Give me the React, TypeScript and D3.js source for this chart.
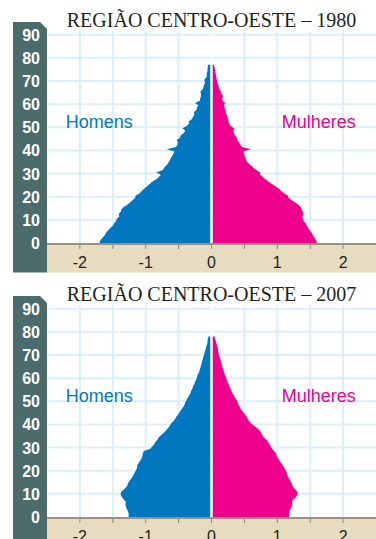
import React from "react";
import * as d3 from "d3";

const men1980 = [1.70,1.68,1.65,1.62,1.60,1.57,1.54,1.50,1.48,1.45,1.44,1.40,1.41,1.38,1.37,1.34,1.28,1.24,1.20,1.16,1.15,1.09,1.06,1.02,0.98,0.94,0.90,0.84,0.80,0.77,0.84,0.74,0.72,0.69,0.66,0.64,0.62,0.60,0.58,0.56,0.68,0.54,0.52,0.51,0.53,0.48,0.47,0.42,0.40,0.44,0.38,0.34,0.35,0.30,0.28,0.26,0.27,0.23,0.22,0.20,0.25,0.18,0.17,0.16,0.16,0.17,0.13,0.12,0.11,0.10,0.11,0.08,0.07,0.07,0.06,0.06,0.055];
const women1980 = [1.60,1.58,1.56,1.54,1.52,1.49,1.47,1.45,1.43,1.40,1.39,1.38,1.40,1.39,1.37,1.36,1.32,1.27,1.22,1.17,1.16,1.10,1.06,1.02,0.97,0.92,0.87,0.82,0.78,0.74,0.74,0.68,0.64,0.60,0.56,0.53,0.52,0.50,0.50,0.48,0.60,0.46,0.44,0.42,0.39,0.385,0.36,0.34,0.33,0.35,0.29,0.27,0.26,0.25,0.24,0.23,0.22,0.21,0.20,0.19,0.21,0.17,0.16,0.18,0.15,0.14,0.12,0.11,0.10,0.09,0.08,0.075,0.07,0.06,0.055,0.05,0.04];
const men2007 = [1.26,1.26,1.27,1.29,1.30,1.31,1.30,1.33,1.36,1.38,1.38,1.35,1.31,1.28,1.27,1.25,1.22,1.20,1.18,1.16,1.14,1.13,1.13,1.10,1.08,1.06,1.05,1.04,1.03,0.93,0.90,0.87,0.85,0.82,0.80,0.76,0.72,0.69,0.66,0.63,0.61,0.58,0.55,0.53,0.50,0.48,0.46,0.43,0.41,0.40,0.38,0.36,0.34,0.32,0.31,0.29,0.28,0.26,0.25,0.23,0.22,0.21,0.19,0.18,0.17,0.16,0.15,0.14,0.13,0.12,0.11,0.10,0.09,0.08,0.07,0.06,0.06,0.05];
const women2007 = [1.18,1.18,1.19,1.20,1.22,1.23,1.22,1.24,1.28,1.30,1.31,1.29,1.25,1.23,1.22,1.20,1.18,1.16,1.15,1.14,1.12,1.10,1.08,1.05,1.03,1.01,0.99,0.98,0.95,0.92,0.90,0.88,0.86,0.83,0.79,0.77,0.75,0.73,0.69,0.64,0.60,0.57,0.55,0.53,0.50,0.48,0.45,0.43,0.41,0.40,0.38,0.36,0.34,0.32,0.30,0.29,0.27,0.26,0.24,0.23,0.22,0.20,0.19,0.18,0.17,0.16,0.15,0.14,0.13,0.12,0.11,0.10,0.10,0.09,0.08,0.07,0.06,0.05];

const ageTicks = [0,10,20,30,40,50,60,70,80,90];
const xTickLabels = [-2,-1,0,1,2];
const xMinorTicks = [-2,-1.5,-1,-0.5,0,0.5,1,1.5,2];
const gridX = [-2,-1.5,-1,-0.5,0.5,1,1.5,2];

const charts = [
  { title: "REGIÃO CENTRO-OESTE – 1980", men: men1980, women: women1980, offset: 0 },
  { title: "REGIÃO CENTRO-OESTE – 2007", men: men2007, women: women2007, offset: 274 },
];

const BLUE = "#0077bf";
const PINK = "#ec008c";
const GRID = "#dbeffa";
const SIDE = "#4b6c6a";
const BEIGE = "#e7dcc0";

const x = d3.scaleLinear().domain([-2.5, 2.5]).range([47, 376]);

function Pyramid({ title, men, women, offset }: any) {
  const y = d3.scaleLinear().domain([0, 90]).range([243 + offset, 34.7 + offset]);
  const top = 31.5 + offset;
  const base = 243 + offset;
  const x0 = x(0);
  const pts = (vals: number[]) => {
    const p = [{ a: 0, v: vals[0] }];
    vals.forEach((v, i) => p.push({ a: i + 0.5, v }));
    p.push({ a: vals.length, v: vals[vals.length - 1] });
    return p;
  };
  const menArea = d3.area<any>()
    .curve(d3.curveLinear)
    .y((d) => y(d.a))
    .x0(x0 - 1)
    .x1((d) => x(-d.v));
  const womenArea = d3.area<any>()
    .curve(d3.curveLinear)
    .y((d) => y(d.a))
    .x0(x0 + 1)
    .x1((d) => x(d.v));
  const sideTop = 22 + offset;
  const sideBottom = 272.5 + offset;
  return (
    <g>
      <text x={211.5} y={26.7 + offset} textAnchor="middle" fontFamily="'Liberation Serif', 'Times New Roman', serif" fontSize={20} fill="#231f20">{title}</text>
      <path d={`M13,${sideTop} L40,${sideTop} L47,${sideTop + 7} L47,${sideBottom} L13,${sideBottom} Z`} fill={SIDE} />
      {gridX.map((g) => (
        <line key={"gx" + g} x1={x(g)} x2={x(g)} y1={top} y2={base} stroke={GRID} strokeWidth={2} />
      ))}
      {ageTicks.filter((a) => a > 0).map((a) => (
        <line key={"gy" + a} x1={47} x2={376} y1={y(a)} y2={y(a)} stroke={GRID} strokeWidth={2} />
      ))}
      <path d={menArea(pts(men)) || ""} fill={BLUE} />
      <path d={womenArea(pts(women)) || ""} fill={PINK} />
      <line x1={x0} x2={x0} y1={top} y2={base} stroke="#ffffff" strokeWidth={2} />
      <rect x={47} y={base} width={329} height={sideBottom - base} fill={BEIGE} />
      <line x1={47} x2={376} y1={base + 1} y2={base + 1} stroke="#9d927f" strokeWidth={2} />
      {xMinorTicks.map((t) => (
        <line key={"t" + t} x1={x(t)} x2={x(t)} y1={base + 2} y2={base + 6} stroke="#8f8574" strokeWidth={1} />
      ))}
      {xTickLabels.map((t) => (
        <text key={"l" + t} x={x(t)} y={267.7 + offset} textAnchor="middle" fontFamily="'Liberation Sans', Arial, sans-serif" fontSize={16} fill="#231f20">{t}</text>
      ))}
      {ageTicks.map((a) => (
        <text key={"a" + a} x={40} y={y(a) + 6} textAnchor="end" fontFamily="'Liberation Sans', Arial, sans-serif" fontWeight="bold" fontSize={16} fill="#ffffff">{a}</text>
      ))}
      <text x={65.7} y={128.3 + offset} fontFamily="'Liberation Sans', Arial, sans-serif" fontSize={18} fill={BLUE}>Homens</text>
      <text x={281.7} y={128.3 + offset} fontFamily="'Liberation Sans', Arial, sans-serif" fontSize={18} fill={PINK}>Mulheres</text>
    </g>
  );
}

export default function App() {
  return (
    <div style={{ position: "absolute", left: 0, top: 0 }}>
      <svg width={376} height={539} style={{ display: "block" }}>
        <rect width={376} height={539} fill="#ffffff" />
        {charts.map((c) => (
          <Pyramid key={c.title} {...c} />
        ))}
      </svg>
    </div>
  );
}
